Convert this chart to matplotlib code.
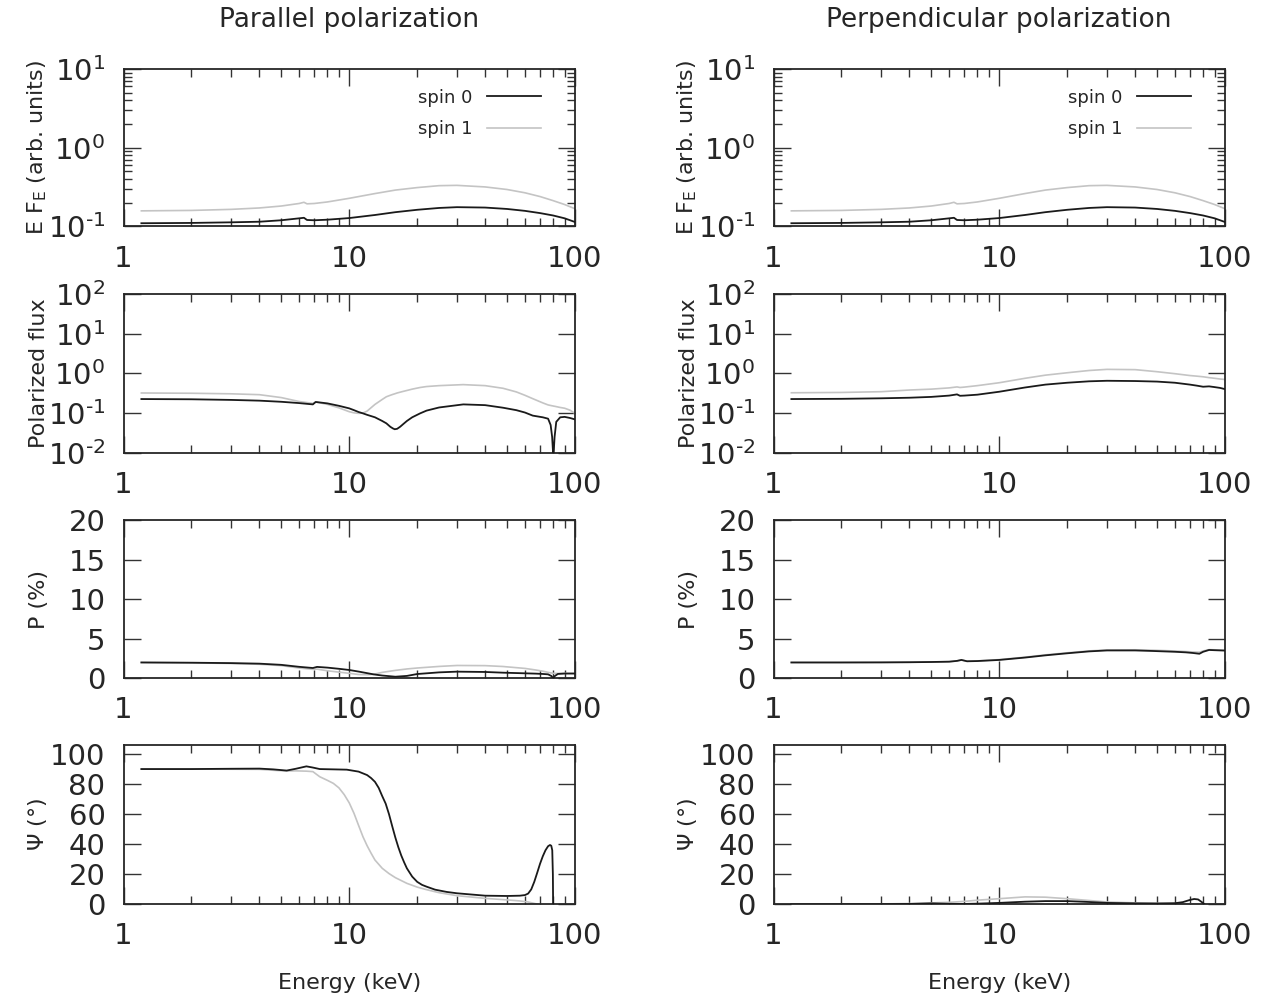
import numpy as np
import matplotlib
matplotlib.use('Agg')
import matplotlib.pyplot as plt
from matplotlib.ticker import FixedLocator, NullFormatter, LogLocator

# ---- data ----
# E F_E, same for both polarizations
ef_energy = [1.2, 2, 3, 4, 5, 6, 6.3, 6.5, 7, 8, 10, 13, 16, 20, 25, 30, 40, 50, 60, 70, 80, 90, 100]
ef_spin0 = [0.110, 0.111, 0.113, 0.115, 0.120, 0.127, 0.129, 0.121, 0.120, 0.122, 0.128, 0.140, 0.152,
            0.163, 0.172, 0.176, 0.174, 0.167, 0.158, 0.148, 0.138, 0.127, 0.114]
ef_spin1 = [0.158, 0.160, 0.165, 0.172, 0.182, 0.196, 0.203, 0.194, 0.196, 0.205, 0.228, 0.262, 0.290,
            0.312, 0.330, 0.333, 0.318, 0.295, 0.268, 0.240, 0.213, 0.190, 0.168]

# polarized flux, parallel
par_pf_energy = [1.2, 2, 3, 4, 5, 6, 6.9, 7.1, 8, 9, 10, 10.5, 11, 11.5, 12, 13, 14, 14.6, 15.2, 15.6,
                 15.9, 16.3, 16.8, 17.3, 18, 19, 20.6, 22, 25, 32, 40, 48, 55, 60, 65, 72, 76, 78, 79.2,
                 79.8, 80.2, 80.6, 81.2, 82.6, 86, 90, 95, 100]
par_pf_spin0 = [0.225, 0.222, 0.214, 0.205, 0.192, 0.178, 0.165, 0.19, 0.175, 0.152, 0.131, 0.118, 0.106,
                0.098, 0.09, 0.078, 0.063, 0.055, 0.045, 0.041, 0.039, 0.040, 0.045, 0.052, 0.063, 0.078,
                0.098, 0.115, 0.138, 0.165, 0.158, 0.136, 0.118, 0.103, 0.086, 0.078, 0.072, 0.05, 0.025,
                0.012, 0.008, 0.012, 0.025, 0.06, 0.078, 0.08, 0.075, 0.069]
par_pf_spin1 = [0.32, 0.315, 0.305, 0.29, 0.245, 0.195, 0.175, 0.19, 0.165, 0.135, 0.108, 0.101, 0.098,
                0.1, 0.112, 0.165, 0.22, 0.257, 0.28, 0.295, 0.305, 0.32, 0.335, 0.35, 0.37, 0.4, 0.44,
                0.465, 0.49, 0.52, 0.49, 0.42, 0.34, 0.28, 0.23, 0.18, 0.16, 0.155, 0.152, 0.151, 0.15,
                0.149, 0.148, 0.145, 0.138, 0.132, 0.118, 0.098]

# polarized flux, perpendicular
perp_pf_energy = [1.2, 2, 3, 4, 5, 6, 6.5, 6.7, 7, 8, 10, 13, 16, 20, 25, 30, 40, 50, 60, 70, 75, 80,
                  85, 90, 95, 100]
perp_pf_spin0 = [0.225, 0.228, 0.235, 0.243, 0.255, 0.275, 0.295, 0.272, 0.275, 0.29, 0.344, 0.44, 0.52,
                 0.58, 0.63, 0.65, 0.64, 0.62, 0.58, 0.52, 0.49, 0.46, 0.47, 0.45, 0.43, 0.40]
perp_pf_spin1 = [0.324, 0.33, 0.345, 0.38, 0.40, 0.43, 0.455, 0.44, 0.45, 0.49, 0.58, 0.75, 0.90, 1.035,
                 1.18, 1.26, 1.24, 1.10, 0.98, 0.88, 0.85, 0.82, 0.78, 0.75, 0.72, 0.70]

# polarization degree (%), parallel
par_p_energy = [1.2, 2, 3, 4, 5, 6, 6.9, 7.2, 8, 9, 10, 11, 12, 12.8, 14, 16, 18, 20, 25, 30, 40, 48,
                60, 67, 72, 76, 78.5, 80, 81.5, 84, 90, 100]
par_p_spin0 = [2.0, 1.97, 1.92, 1.85, 1.7, 1.45, 1.3, 1.44, 1.35, 1.2, 1.05, 0.85, 0.65, 0.5, 0.35, 0.2,
               0.3, 0.54, 0.75, 0.84, 0.8, 0.71, 0.63, 0.59, 0.55, 0.5, 0.3, 0.02, 0.3, 0.55, 0.6, 0.6]
par_p_spin1 = [2.0, 1.95, 1.87, 1.77, 1.6, 1.3, 1.13, 1.16, 0.95, 0.78, 0.63, 0.48, 0.46, 0.5, 0.75, 1.0,
               1.18, 1.3, 1.5, 1.62, 1.6, 1.49, 1.25, 1.05, 0.9, 0.75, 0.68, 0.63, 0.62, 0.62, 0.63, 0.63]

# polarization degree (%), perpendicular
perp_p_energy = [1.2, 2, 3, 4, 5, 6, 6.5, 6.8, 7.2, 8, 10, 13, 16, 20, 25, 30, 40, 48, 60, 67, 72, 77,
                 80, 85, 90, 100]
perp_p_spin0 = [2.0, 2.0, 2.01, 2.03, 2.06, 2.1, 2.2, 2.32, 2.15, 2.18, 2.32, 2.62, 2.9, 3.16, 3.4, 3.52,
                3.52, 3.45, 3.35, 3.28, 3.2, 3.1, 3.35, 3.58, 3.55, 3.5]
perp_p_spin1 = [2.0, 2.0, 2.01, 2.03, 2.06, 2.1, 2.2, 2.32, 2.16, 2.2, 2.36, 2.67, 2.96, 3.22, 3.46, 3.58,
                3.6, 3.55, 3.45, 3.38, 3.33, 3.3, 3.45, 3.62, 3.6, 3.55]

# polarization angle (deg), parallel
par_psi0_energy = [1.2, 2, 3, 4, 4.6, 5.28, 5.8, 6.46, 6.9, 7.4, 8.5, 9.75, 11, 12, 12.5, 13, 13.5, 14,
                   14.5, 15, 15.5, 16, 16.5, 17, 17.5, 18, 19, 20, 21, 22, 24, 27, 30, 40, 50, 57, 60,
                   62, 64, 66, 68, 70, 72, 74, 76, 77.5, 78.5, 79.3, 79.8, 80.2, 85, 90, 100]
par_psi_spin0 = [90, 90, 90.2, 90.3, 89.8, 89, 90.2, 91.8, 91, 90, 89.8, 89.6, 88.3, 86, 84, 81.5, 77.5,
                 72, 67, 60, 52, 44.5, 38, 32.5, 28, 24, 18.5, 15, 13, 11.8, 9.8, 8.3, 7.4, 5.8, 5.6,
                 5.8, 6.2, 7.2, 10, 15, 21, 27, 32, 36, 38.7, 39.5, 39, 36, 20, -20, -20, -20, -20]
par_psi1_energy = [1.2, 2, 3, 4, 4.6, 5.28, 5.8, 6.46, 6.9, 7.4, 8, 8.5, 9, 9.5, 10, 10.5, 11, 11.5, 12,
                   12.5, 13, 14, 15, 16, 18, 20, 22, 25, 30, 40, 50, 57, 62, 65, 68, 72, 76, 80, 90, 100]
par_psi_spin1 = [90, 90, 89.9, 89.8, 89.2, 88.7, 88.8, 88.6, 88.3, 84.9, 82.5, 80.5, 77.5, 73, 67.5, 60.5,
                 52.5, 45, 39, 34, 29.5, 24, 20.5, 17.8, 14, 11.5, 9.8, 7.8, 5.8, 4, 3, 2.3, 1.6, 0.9,
                 0.2, -1, -3, -4, -5, -5]

# polarization angle (deg), perpendicular
perp_psi_energy = [1.2, 2, 3, 4, 5, 6, 7, 8, 10, 13, 16, 20, 25, 30, 40, 50, 60, 65, 70, 73, 76, 79, 82,
                   90, 100]
perp_psi_spin0 = [0, 0, 0.05, 0.3, 0.7, 0.4, 0.3, 0.5, 1.0, 1.8, 2.2, 2.2, 1.6, 1.0, 0.7, 0.6, 0.8, 1.5,
                  3.0, 3.6, 3.3, 1.5, -0.5, -1, -1]
perp_psi_spin1 = [0, 0.1, 0.3, 0.6, 1.0, 1.4, 2.0, 2.8, 3.8, 5.0, 4.8, 3.8, 2.6, 1.6, 1.0, 0.8, 0.6, 0.5,
                  0.4, 0.3, 0.2, 0.1, 0, 0, 0]

col_titles = ['Parallel polarization', 'Perpendicular polarization']
row_labels = [r'E F$_\mathregular{E}$ (arb. units)', 'Polarized flux', 'P (%)', r'$\Psi$ (°)']
spin_labels = ['spin 0', 'spin 1']
x_ticks = [1, 10, 100]
x_ticklabels = ['1', '10', '100']

c0 = '#1a1a1a'
c1 = '#c4c4c4'
txt = '#262626'

plt.rcParams['font.family'] = 'DejaVu Sans'
plt.rcParams['mathtext.fontset'] = 'dejavusans'
plt.rcParams['text.color'] = txt
plt.rcParams['axes.labelcolor'] = txt
plt.rcParams['xtick.color'] = '#333333'
plt.rcParams['ytick.color'] = '#333333'
plt.rcParams['xtick.labelcolor'] = txt
plt.rcParams['ytick.labelcolor'] = txt


def pow_label(k):
    # gnuplot-like label: short hyphen instead of the wide math minus
    if k < 0:
        return r'$10^{\text{-}%d}$' % (-k)
    return r'$10^{%d}$' % k


W, H = 1265, 997
fig = plt.figure(figsize=(W / 100, H / 100), dpi=100)

col_x = [123.5, 773.5]
col_w = 451.5
rows_px = [(69, 226.5), (294, 452.7), (520, 678.3), (745, 904.4)]

panels = [
    [(ef_energy, ef_spin0, ef_energy, ef_spin1),
     (par_pf_energy, par_pf_spin0, par_pf_energy, par_pf_spin1),
     (par_p_energy, par_p_spin0, par_p_energy, par_p_spin1),
     (par_psi0_energy, par_psi_spin0, par_psi1_energy, par_psi_spin1)],
    [(ef_energy, ef_spin0, ef_energy, ef_spin1),
     (perp_pf_energy, perp_pf_spin0, perp_pf_energy, perp_pf_spin1),
     (perp_p_energy, perp_p_spin0, perp_p_energy, perp_p_spin1),
     (perp_psi_energy, perp_psi_spin0, perp_psi_energy, perp_psi_spin1)],
]

for ci in range(2):
    for ri in range(4):
        top, bot = rows_px[ri]
        ax = fig.add_axes([col_x[ci] / W, 1 - bot / H, col_w / W, (bot - top) / H])
        e0, s0, e1, s1 = panels[ci][ri]
        ax.plot(e0, s0, color=c0, lw=1.3, label=spin_labels[0], zorder=3)
        ax.plot(e1, s1, color=c1, lw=1.2, label=spin_labels[1], zorder=2)

        ax.set_xscale('log')
        ax.set_xlim(1, 100)
        ax.xaxis.set_major_locator(FixedLocator(x_ticks))
        ax.set_xticklabels(x_ticklabels)
        ax.xaxis.set_minor_locator(LogLocator(base=10, subs=np.arange(2, 10)))
        ax.xaxis.set_minor_formatter(NullFormatter())

        if ri in (0, 1):
            exps = [-1, 0, 1] if ri == 0 else [-2, -1, 0, 1, 2]
            ax.set_yscale('log')
            ax.set_ylim(10.0 ** exps[0], 10.0 ** exps[-1])
            ax.yaxis.set_major_locator(FixedLocator([10.0 ** k for k in exps]))
            ax.set_yticklabels([pow_label(k) for k in exps])
            ax.yaxis.set_minor_locator(LogLocator(base=10, subs=np.arange(2, 10)))
            ax.yaxis.set_minor_formatter(NullFormatter())
        elif ri == 2:
            ax.set_ylim(0, 20)
            ax.set_yticks([0, 5, 10, 15, 20])
        else:
            ax.set_ylim(0, 106)
            ax.set_yticks([0, 20, 40, 60, 80, 100])

        ax.tick_params(which='both', direction='in', top=True, right=True, labelsize=21)
        ax.tick_params(which='major', length=12, width=1.0)
        ax.tick_params(which='minor', length=6, width=1.0)
        ax.tick_params(axis='x', pad=13)
        ax.tick_params(axis='y', pad=13)
        for sp in ax.spines.values():
            sp.set_linewidth(1.3)
            sp.set_color('#262626')

        ax.set_ylabel(row_labels[ri], fontsize=16)
        ax.yaxis.set_label_coords(-0.165, 0.5)
        if ri == 0:
            ax.set_title(col_titles[ci], fontsize=19, pad=30)
            ax.legend(loc='upper right', bbox_to_anchor=(0.925, 0.875), markerfirst=False,
                      frameon=False, fontsize=13, handlelength=3.0, labelspacing=0.75,
                      borderaxespad=0, borderpad=0, handletextpad=0.8)
        if ri == 3:
            ax.set_xlabel('Energy (keV)', fontsize=16)
            ax.xaxis.set_label_coords(0.5, -0.43)

fig.savefig('out.png', dpi=100)
